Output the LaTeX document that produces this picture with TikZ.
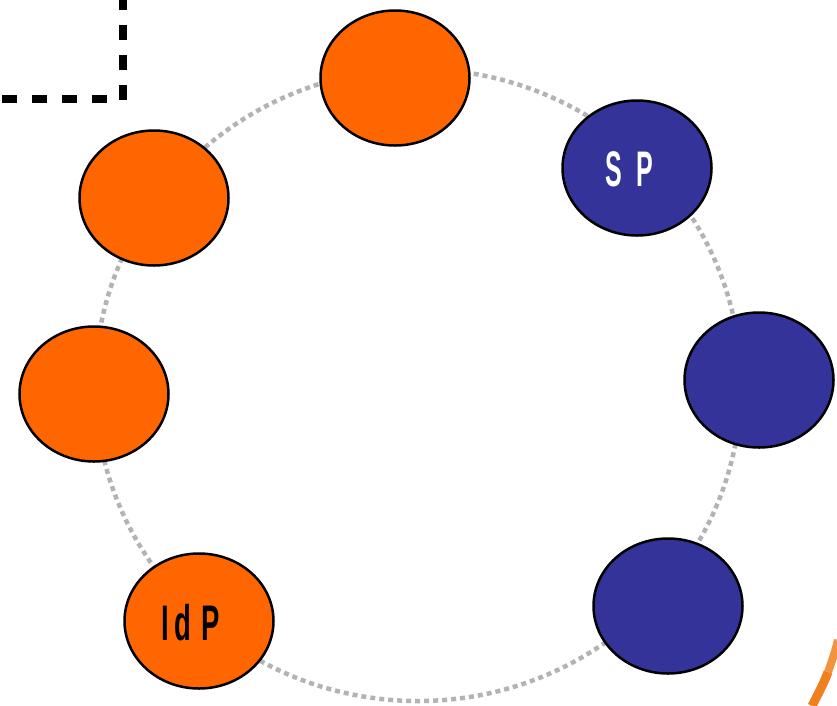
\documentclass[tikz,border=0pt]{standalone}
\usepackage{fontspec}
\usepackage{graphicx}
\setmainfont{Liberation Sans}
\usetikzlibrary{shapes.geometric}

\definecolor{peerorange}{HTML}{FF6600}
\definecolor{peerblue}{HTML}{333399}
\definecolor{ringgray}{HTML}{B3B3B3}
\definecolor{swoosh}{HTML}{F0801E}
\definecolor{swooshpale}{HTML}{F8C090}

\tikzset{
  peer/.style={ellipse, draw=black, line width=2.5pt, inner sep=0pt,
               minimum width=149pt, minimum height=135pt},
  idpside/.style={peer, fill=peerorange},
  spside/.style={peer, fill=peerblue},
  ring/.style={draw=ringgray, line width=4.5pt, dash pattern=on 5pt off 4pt},
  boundary/.style={draw=black, line width=8pt, dash pattern=on 15pt off 15pt},
  peerlabel/.style={font=\bfseries\fontsize{50}{50}\selectfont, inner sep=0pt}
}

\begin{document}
\begin{tikzpicture}[x=1pt,y=-1pt]
  \useasboundingbox (0,0) rectangle (837,705);

  % dashed boundary corner, top left
  \coordinate (bTop) at (123,0);
  \coordinate (bCorner) at (123,100);
  \coordinate (bEdgeEnd) at (119,99);
  \coordinate (bLeft) at (2,99);
  \draw[boundary] (bCorner) -- (bTop);
  \draw[boundary] (bLeft) -- (bEdgeEnd);

  % ring the peers sit on
  \coordinate (ringc) at (418,385);
  \draw[ring] (ringc) ellipse [x radius=323pt, y radius=316pt];

  % identity-provider side
  \node[idpside] (top)   at (395,78)  {};
  \node[idpside] (upl)   at (154,198) {};
  \node[idpside] (left)  at (94,394)  {};
  \node[idpside] (idp)   at (199,621) {};
  % service-provider side
  \node[spside]  (sp)    at (637,168) {};
  \node[spside]  (right) at (759,380) {};
  \node[spside]  (lowr)  at (668,606) {};

  % labels
  \node[peerlabel, text=white] (splabel) at (629.5,169)
    {\scalebox{0.5}[1]{S\hspace{28pt}P}};
  \node[peerlabel, text=black] (idplabel) at (190.5,623)
    {\scalebox{0.55}[1]{I\hspace{10pt}d\hspace{18pt}P}};

  % orange swoosh at the bottom right edge, paler towards its top
  \coordinate (swA) at (812,706);
  \coordinate (swM) at (828,672);
  \coordinate (swB) at (838,640);
  \draw[swoosh, line width=9pt] (swA) .. controls (818,694) and (824,683) .. (swM);
  \draw[swoosh!70!swooshpale, line width=8pt] (swM) .. controls (832,661) and (835,652) .. (swB);
\end{tikzpicture}
\end{document}
